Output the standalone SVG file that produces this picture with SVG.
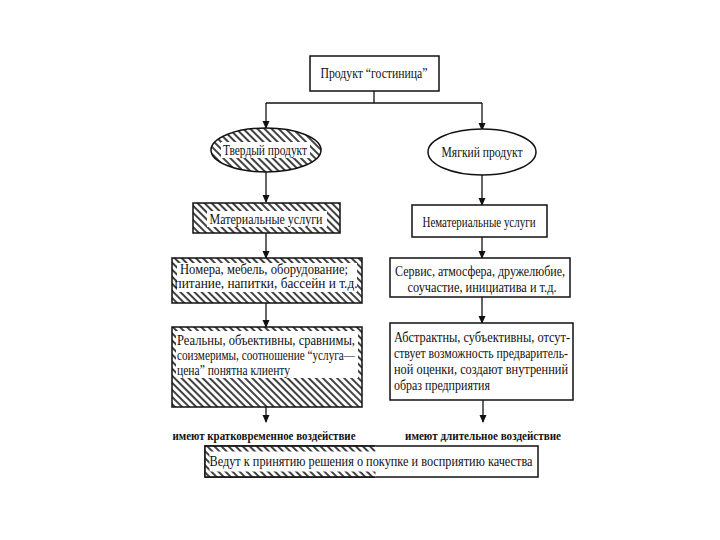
<svg xmlns="http://www.w3.org/2000/svg" width="720" height="540" viewBox="0 0 720 540">
<style>
  .t { font-family: "Liberation Serif", "Times New Roman", serif; font-size: 14px; fill: #111; }
  .b { font-weight: bold; font-size: 13.5px; }
  .box { fill: #fff; stroke: #111; stroke-width: 1.5; }
  .hb { fill: url(#hatch); stroke: #111; stroke-width: 1.5; }
  .wh { fill: #fff; stroke: none; }
  .hf { fill: url(#hatch); stroke: none; }
  .ln { stroke: #111; stroke-width: 1.3; fill: none; }
  .ar { stroke: #111; stroke-width: 1.3; fill: none; marker-end: url(#arr); }
</style>
<defs>
  <pattern id="hatch" width="5" height="5" patternUnits="userSpaceOnUse" patternTransform="rotate(-45)">
    <rect width="5" height="5" fill="#fff"/>
    <line x1="1" y1="-1" x2="1" y2="6" stroke="#111" stroke-width="1.6"/>
  </pattern>
  <marker id="arr" markerWidth="8" markerHeight="9" refX="7" refY="4" orient="auto" markerUnits="userSpaceOnUse">
    <path d="M0,0.5 L8,4 L0,7.5 Z" fill="#111"/>
  </marker>
</defs>
<rect width="720" height="540" fill="#fff"/>

<g id="connectors">
  <line class="ln" x1="374" y1="91" x2="374" y2="103"/>
  <line class="ln" x1="266" y1="103" x2="482" y2="103"/>
  <line class="ar" x1="266" y1="103" x2="266" y2="128"/>
  <line class="ar" x1="482" y1="103" x2="482" y2="130"/>
  <line class="ar" x1="266" y1="172" x2="266" y2="202"/>
  <line class="ar" x1="482" y1="175" x2="482" y2="205"/>
  <line class="ar" x1="266" y1="233" x2="266" y2="258"/>
  <line class="ar" x1="482" y1="237" x2="482" y2="258"/>
  <line class="ar" x1="266" y1="303" x2="266" y2="327"/>
  <line class="ar" x1="482" y1="297" x2="482" y2="323"/>
  <line class="ar" x1="266" y1="407" x2="266" y2="422"/>
  <line class="ar" x1="483" y1="400" x2="483" y2="422"/>
</g>

<g id="product">
  <rect class="box" x="310" y="56" width="129" height="35"/>
  <text class="t" x="374" y="78" text-anchor="middle" textLength="107" lengthAdjust="spacingAndGlyphs">Продукт “гостиница”</text>
</g>

<g id="hard">
  <ellipse class="hb" cx="266" cy="150" rx="55" ry="22"/>
  <rect class="wh" x="221" y="142" width="89" height="16"/>
  <text class="t" x="265" y="155" text-anchor="middle" textLength="84" lengthAdjust="spacingAndGlyphs">Твердый продукт</text>
</g>

<g id="soft">
  <ellipse class="box" cx="482" cy="152" rx="54" ry="23"/>
  <text class="t" x="482" y="157" text-anchor="middle" textLength="81" lengthAdjust="spacingAndGlyphs">Мягкий продукт</text>
</g>

<g id="material">
  <rect class="hb" x="193" y="203" width="147" height="30"/>
  <rect class="wh" x="207" y="211" width="120" height="16"/>
  <text class="t" x="266" y="224" text-anchor="middle" textLength="113" lengthAdjust="spacingAndGlyphs">Материальные услуги</text>
</g>

<g id="immaterial">
  <rect class="box" x="412" y="205" width="135" height="32"/>
  <text class="t" x="479" y="227" text-anchor="middle" textLength="113" lengthAdjust="spacingAndGlyphs">Нематериальные услуги</text>
</g>

<g id="rooms">
  <rect class="hb" x="172" y="258" width="190" height="45"/>
  <rect class="wh" x="177" y="263" width="180" height="29"/>
  <text class="t" x="264" y="274" text-anchor="middle" textLength="168" lengthAdjust="spacingAndGlyphs">Номера, мебель, оборудование;</text>
  <text class="t" x="266" y="288" text-anchor="middle" textLength="183" lengthAdjust="spacingAndGlyphs">питание, напитки, бассейн и т.д.</text>
</g>

<g id="service">
  <rect class="box" x="390" y="258" width="180" height="39"/>
  <text class="t" x="480" y="276" text-anchor="middle" textLength="170" lengthAdjust="spacingAndGlyphs">Сервис, атмосфера, дружелюбие,</text>
  <text class="t" x="482" y="292" text-anchor="middle" textLength="149" lengthAdjust="spacingAndGlyphs">соучастие, инициатива и т.д.</text>
</g>

<g id="real">
  <rect class="hb" x="172" y="327" width="190" height="80"/>
  <rect class="wh" x="176" y="331" width="182" height="47"/>
  <text class="t" x="177" y="345" textLength="178" lengthAdjust="spacingAndGlyphs">Реальны, объективны, сравнимы,</text>
  <text class="t" x="177" y="360" textLength="178" lengthAdjust="spacingAndGlyphs">соизмеримы, соотношение “услуга—</text>
  <text class="t" x="177" y="375" textLength="113" lengthAdjust="spacingAndGlyphs">цена” понятна клиенту</text>
</g>

<g id="abstract">
  <rect class="box" x="390" y="323" width="183" height="77"/>
  <text class="t" x="394" y="342" textLength="176" lengthAdjust="spacingAndGlyphs">Абстрактны, субъективны, отсут-</text>
  <text class="t" x="394" y="358" textLength="174" lengthAdjust="spacingAndGlyphs">ствует возможность предваритель-</text>
  <text class="t" x="394" y="374" textLength="174" lengthAdjust="spacingAndGlyphs">ной оценки, создают внутренний</text>
  <text class="t" x="394" y="390" textLength="96" lengthAdjust="spacingAndGlyphs">образ предприятия</text>
</g>

<g id="short-effect">
  <text class="t b" x="264" y="440" text-anchor="middle" textLength="183" lengthAdjust="spacingAndGlyphs">имеют кратковременное воздействие</text>
</g>

<g id="long-effect">
  <text class="t b" x="483" y="440" text-anchor="middle" textLength="156" lengthAdjust="spacingAndGlyphs">имеют длительное воздействие</text>
</g>

<g id="decision">
  <rect class="box" x="205" y="446" width="333" height="31" stroke="#555"/>
  <rect class="hf" x="205.5" y="446.5" width="170" height="5"/>
  <rect class="hf" x="205.5" y="471.5" width="170" height="5"/>
  <rect class="hf" x="205.5" y="446.5" width="4" height="30"/>
  <path class="ln" d="M375,446 H205 V477 H375"/>
  <text class="t" x="371" y="466" text-anchor="middle" textLength="323" lengthAdjust="spacingAndGlyphs">Ведут к принятию решения о покупке и восприятию качества</text>
</g>
</svg>
